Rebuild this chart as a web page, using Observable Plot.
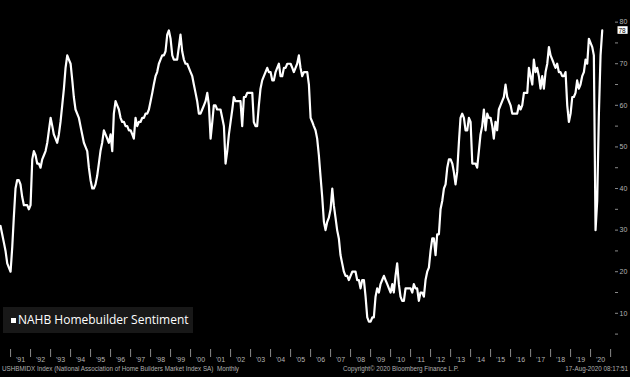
<!DOCTYPE html>
<html><head><meta charset="utf-8">
<script src="https://cdn.jsdelivr.net/npm/d3@7"></script>
<script src="https://cdn.jsdelivr.net/npm/@observablehq/plot@0.6"></script>
<style>
html,body{margin:0;padding:0;background:#000;}
#wrap{position:relative;width:630px;height:377px;background:#000;overflow:hidden;}
#chart svg{display:block;}
#legend{position:absolute;left:3px;top:307px;width:190px;height:26px;background:#181818;color:#fff;font-family:"Open Sans";font-size:12px;line-height:26px;white-space:nowrap;}
#legend .sw{position:absolute;left:8px;top:11px;width:5px;height:5px;background:#fff;}
#legend .lbl{position:absolute;left:15px;top:0;}
.foot{position:absolute;top:365px;font-family:"Liberation Sans";font-size:6.3px;line-height:8px;color:#b0b0b0;white-space:nowrap;}
</style></head><body>
<div id="wrap">
<div id="chart"></div>
<div id="legend"><span class="sw"></span><span class="lbl"></span></div>
<div class="foot" id="f1" style="left:2px"></div>
<div class="foot" id="f2" style="left:343px"></div>
<div class="foot" id="f3" style="right:2px"></div>
</div>
<script>
const seriesName = "NAHB Homebuilder Sentiment";
const startYear = 1990, startMonth = 6; // first observation: July 1990

const v1990s = [
  31, 29, 27, 25, 22, 21,
  20, 26, 33, 40, 42, 42, 41, 38, 36, 36, 36, 35,
  36, 47, 49, 48, 46, 46, 45, 47, 48, 49, 51, 54,
  57, 55, 53, 52, 51, 53, 56, 60, 64, 69, 72, 71,
  70, 66, 62, 59, 58, 57, 55, 53, 51, 50, 49, 45,
  42, 40, 40, 41, 43, 46, 49, 51, 54, 53, 52, 51,
  53, 49, 58, 61, 60, 59, 57, 56, 56, 55, 55, 54,
  54, 53, 52, 57, 55, 56, 56, 57, 57, 58, 58, 59,
  61, 63, 65, 67, 68, 70, 71, 72, 72, 73, 77, 78,
  76, 72, 71, 71, 71, 74, 77, 73, 71, 70, 70, 69
];
const v2000s = [
  68, 67, 65, 63, 61, 58, 58, 59, 60, 61, 63, 60,
  52, 56, 60, 60, 59, 59, 59, 57, 55, 46, 49, 53,
  56, 59, 62, 61, 61, 61, 61, 55, 62, 62, 63, 63,
  63, 63, 56, 55, 55, 60, 64, 66, 67, 68, 69, 68,
  68, 66, 66, 68, 69, 70, 67, 67, 69, 69, 70, 70,
  70, 69, 68, 69, 70, 72, 69, 67, 68, 68, 68, 65,
  57, 56, 55, 54, 52, 48, 43, 38, 32, 30, 32, 33,
  35, 40, 36, 33, 30, 28, 24, 22, 20, 19, 19, 18,
  19, 20, 20, 20, 18, 18, 16, 18, 18, 14, 9, 8,
  8, 9, 9, 14, 16, 15, 17, 18, 19, 18, 17, 16
];
const v2010s = [
  15, 17, 15, 19, 22, 17, 14, 13, 13, 16, 16, 16,
  16, 15, 17, 16, 16, 13, 15, 15, 14, 18, 20, 21,
  25, 28, 28, 24, 29, 29, 35, 37, 40, 41, 45, 47,
  47, 46, 44, 41, 44, 51, 57, 58, 57, 54, 54, 57,
  56, 46, 46, 46, 45, 49, 53, 55, 59, 54, 58, 57,
  57, 55, 52, 56, 54, 59, 60, 61, 62, 65, 62, 61,
  60, 58, 58, 58, 58, 60, 59, 60, 63, 63, 63, 69,
  67, 65, 71, 68, 69, 67, 64, 67, 64, 68, 70, 74,
  72, 71, 70, 69, 70, 68, 68, 67, 67, 68, 60, 56,
  58, 62, 62, 63, 66, 64, 65, 67, 68, 71, 70, 76
];
const v2020 = [75, 74, 72, 30, 37, 58, 72, 78];

const yearLabels = ["'91","'92","'93","'94","'95","'96","'97","'98","'99","'00",
  "'01","'02","'03","'04","'05","'06","'07","'08","'09","'10",
  "'11","'12","'13","'14","'15","'16","'17","'18","'19","'20"];
const firstLabelYear = 1991;
const yTicks = [10, 20, 30, 40, 50, 60, 70, 80];
const yMinorTicks = [5, 15, 25, 35, 45, 55, 65, 75];

const footLeft = "USHBMIDX Index (National Association of Home Builders Market Index SA)\u00a0\u00a0Monthly";
const footMid = "Copyright\u00a9 2020 Bloomberg Finance L.P.";
const footRight = "17-Aug-2020 08:17:51";

const values = [...v1990s, ...v2000s, ...v2010s, ...v2020];
const data = values.map((v, i) => ({date: new Date(Date.UTC(startYear, startMonth + i, 1)), value: v}));
const last = data[data.length - 1];

const years = yearLabels.map((_, i) => firstLabelYear + i);
const yearStarts = years.concat(years[years.length - 1] + 1).map(y => new Date(Date.UTC(y, 0, 1)));
const yearMids = years.map(y => new Date(Date.UTC(y, 6, 1)));

const gray = "#8a8a8a";
const chart = Plot.plot({
  width: 630, height: 364,
  marginTop: 0, marginRight: 16, marginBottom: 15, marginLeft: 0,
  style: {background: "#000", color: "#b4b4b4", fontFamily: "Liberation Sans", fontSize: "7px"},
  x: {type: "utc", domain: [new Date(Date.UTC(1990, 6, 1)), new Date(Date.UTC(2021, 2, 13))]},
  y: {domain: [1.3, 85.2]},
  marks: [
    Plot.axisX({ticks: yearStarts, tickSize: 8, tickFormat: () => "", stroke: gray, line: true, label: null}),
    Plot.axisX({ticks: yearMids, tickSize: 0, tickPadding: 8, label: null,
      tickFormat: d => yearLabels[d.getUTCFullYear() - firstLabelYear]}),
    Plot.axisY({anchor: "right", ticks: yTicks, tickSize: 3, tickPadding: 2, stroke: gray, line: true, label: null}),
    Plot.axisY({anchor: "right", ticks: yMinorTicks, tickSize: 3, tickFormat: () => "", stroke: gray, label: null}),
    Plot.line(data, {x: "date", y: "value", stroke: "#fff", strokeWidth: 2.2}),
    Plot.text([last], {y: "value", frameAnchor: "right", dx: 4, textAnchor: "start",
      text: d => String(d.value), fill: "#000", fontSize: 6.5, className: "lastlbl"})
  ]
});
document.getElementById("chart").appendChild(chart);

// white box behind the last-value label (same transform as the text)
const svg = d3.select(chart);
svg.selectAll("text").filter(function() {
  return this.textContent === String(last.value) && this.closest('[fill="#000"]') !== null;
}).each(function() {
  const b = this.getBBox();
  const node = this;
  d3.select(node.parentNode).insert("rect", () => node)
    .attr("transform", node.getAttribute("transform"))
    .attr("x", b.x - 1).attr("y", b.y - 0.3).attr("width", b.width + 2.5).attr("height", b.height + 0.6)
    .attr("fill", "#fff");
});

document.querySelector("#legend .lbl").textContent = seriesName;
document.getElementById("f1").textContent = footLeft;
document.getElementById("f2").textContent = footMid;
document.getElementById("f3").textContent = footRight;
</script>
</body></html>
